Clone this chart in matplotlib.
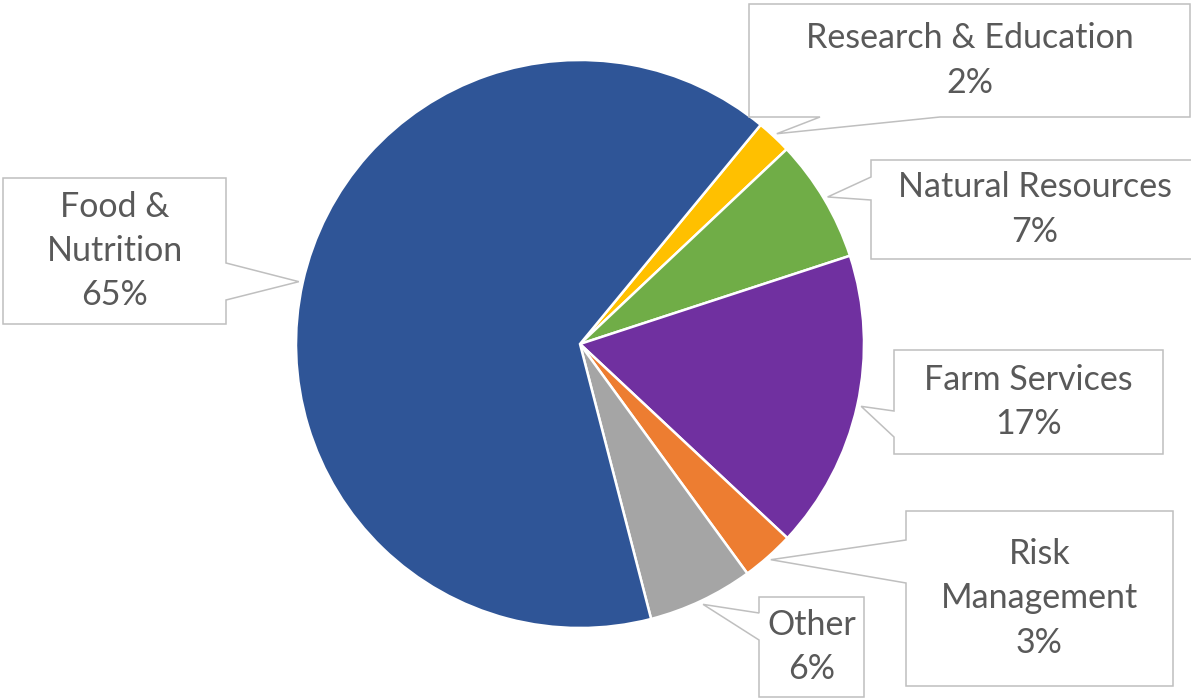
import matplotlib.pyplot as plt
from matplotlib.patches import Polygon
import numpy as np

categories = ["Research & Education", "Natural Resources", "Farm Services",
              "Risk Management", "Other", "Food & Nutrition"]
shares = [2, 7, 17, 3, 6, 65]
label_texts = ["Research & Education", "Natural Resources", "Farm Services",
               "Risk\nManagement", "Other", "Food &\nNutrition"]
colors = ["#FFC000", "#70AD47", "#7030A0", "#ED7D31", "#A5A5A5", "#2F5597"]

W, H = 1191, 698
CX, CY, R = 580, H - 344, 284
TIP_R = 288

# callout boxes, pixel coords from the top-left corner:
# left, top, right, bottom, side carrying the pointer, pointer base start/end
callouts = [
    (749, 4, 1190, 117, "bottom", 820, 940),
    (871, 160, 1199, 259, "left", 177, 200),
    (894, 350, 1163, 454, "left", 411, 437),
    (906, 511, 1173, 686, "left", 540, 583),
    (759, 597, 864, 697, "left", 613, 640),
    (3, 178, 226, 324, "right", 263, 300),
]


def callout_outline(box, tip):
    L, T, Rt, B, side, a, b = box
    tx, ty = tip
    pts = [(L, T)]
    if side == "top":
        pts += [(a, T), (tx, ty), (b, T)]
    pts.append((Rt, T))
    if side == "right":
        pts += [(Rt, a), (tx, ty), (Rt, b)]
    pts.append((Rt, B))
    if side == "bottom":
        pts += [(b, B), (tx, ty), (a, B)]
    pts.append((L, B))
    if side == "left":
        pts += [(L, b), (tx, ty), (L, a)]
    return [(x, H - y) for x, y in pts]


fig = plt.figure(figsize=(W / 100, H / 100), dpi=100)
ax = fig.add_axes([0, 0, 1, 1])

wedges, _ = ax.pie(shares, colors=colors, startangle=50.5, counterclock=False,
                   center=(CX, CY), radius=R,
                   wedgeprops=dict(edgecolor="white", linewidth=1.8))

for w, box, txt, val in zip(wedges, callouts, label_texts, shares):
    mid = np.deg2rad((w.theta1 + w.theta2) / 2)
    tip = (CX + TIP_R * np.cos(mid), H - (CY + TIP_R * np.sin(mid)))
    ax.add_patch(Polygon(callout_outline(box, tip), closed=True,
                         facecolor="white", edgecolor="#BFBFBF",
                         linewidth=1.1, zorder=3))
    L, T, Rt, B = box[:4]
    ax.text((L + Rt) / 2, H - (T + B) / 2, f"{txt}\n{val}%",
            ha="center", va="center", multialignment="center",
            fontsize=24.5, family="Lato", color="#595959",
            linespacing=1.48, zorder=4)

ax.set_xlim(0, W)
ax.set_ylim(0, H)
ax.set_aspect("equal")
ax.axis("off")

fig.savefig("out.png", dpi=100, facecolor="white")
